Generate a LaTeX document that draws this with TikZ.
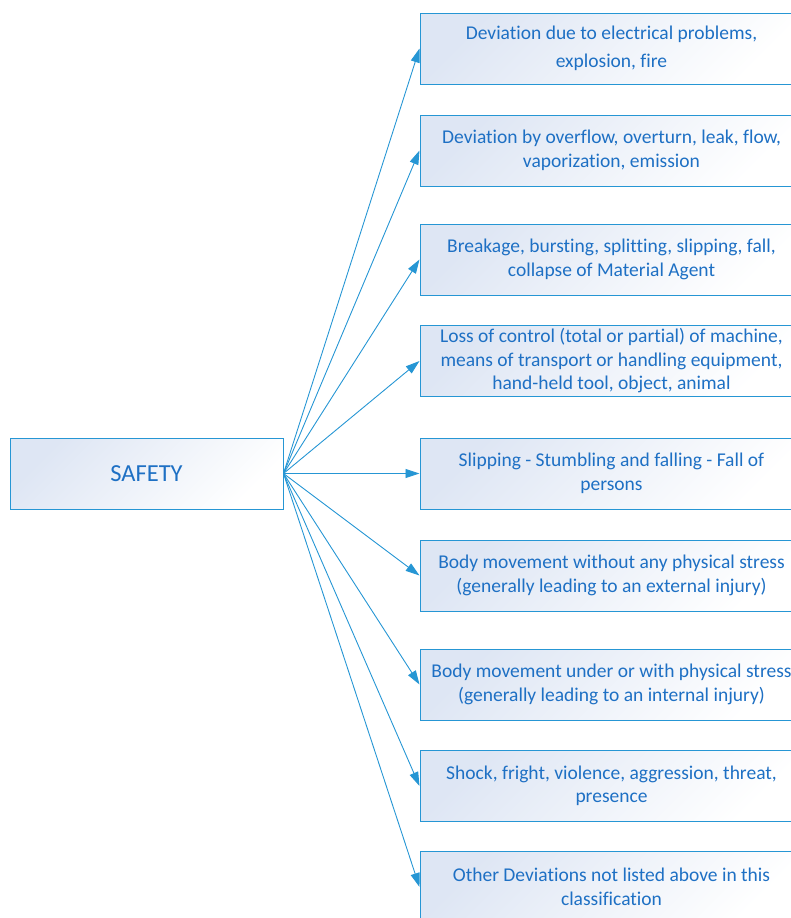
\documentclass[tikz,border=0pt]{standalone}
\usepackage{fontspec}
\setmainfont{Carlito}[Ligatures={NoCommon}]
\usetikzlibrary{arrows.meta}
\definecolor{txtblue}{RGB}{30,112,196}
\definecolor{edgeblue}{RGB}{38,150,212}
\definecolor{boxfill}{RGB}{222,230,244}
\tikzset{
  box/.style={draw=edgeblue, line width=1pt, top color=boxfill, bottom color=white, shading angle=45,
    minimum width=383pt, minimum height=71pt, inner sep=0pt, align=center,
    text=txtblue, font=\fontsize{19.5}{23.5}\selectfont},
  conn/.style={draw=edgeblue, line width=0.9pt, -{Triangle[length=14pt,width=9pt]}}
}
\begin{document}
\begin{tikzpicture}[x=1pt,y=-1pt]
\useasboundingbox (0,0) rectangle (790,918);
\node[box, minimum width=273pt, font=\fontsize{24.5}{28}\selectfont] (s) at (146.5,473.5) {SAFETY};
\node[box] (b1) at (611.5,48.5) {Deviation due to electrical problems,\\[4.5pt] explosion, fire};
\node[box] (b2) at (611.5,150.5) {Deviation by overflow, overturn, leak, flow,\\ vaporization, emission};
\node[box] (b3) at (611.5,259.5) {Breakage, bursting, splitting, slipping, fall,\\ collapse of Material Agent};
\node[box] (b4) at (611.5,361) {Loss of control (total or partial) of machine,\\ means of transport or handling equipment,\\ hand-held tool, object, animal};
\node[box] (b5) at (611.5,473.5) {Slipping - Stumbling and falling - Fall of\\ persons};
\node[box] (b6) at (611.5,575.5) {Body movement without any physical stress\\ (generally leading to an external injury)};
\node[box] (b7) at (611.5,684.5) {Body movement under or with physical stress\\ (generally leading to an internal injury)};
\node[box] (b8) at (611.5,786) {Shock, fright, violence, aggression, threat,\\ presence};
\node[box] (b9) at (611.5,887) {Other Deviations not listed above in this\\ classification};
\foreach \i in {1,...,9}{
  \draw[conn] (s.east) -- (b\i.west);
}
\end{tikzpicture}
\end{document}
